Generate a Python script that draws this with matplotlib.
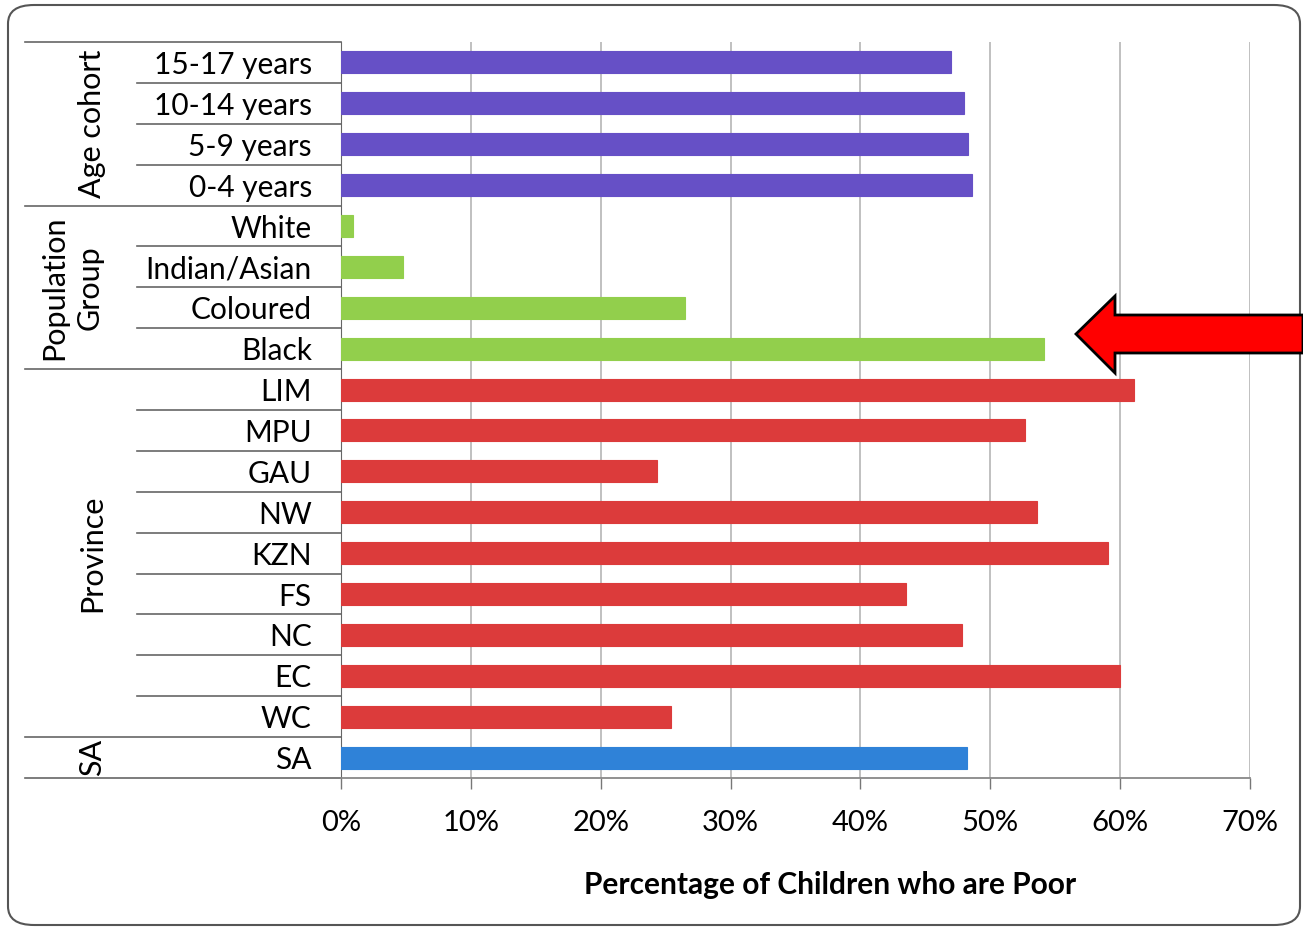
import matplotlib.pyplot as plt
from matplotlib.patches import FancyBboxPatch, Polygon
from matplotlib.transforms import blended_transform_factory

## DATOS ##
labels = ['15-17 years', '10-14 years', '5-9 years', '0-4 years',
          'White', 'Indian/Asian', 'Coloured', 'Black',
          'LIM', 'MPU', 'GAU', 'NW', 'KZN', 'FS', 'NC', 'EC', 'WC',
          'SA']
values = [47.0, 48.0, 48.3, 48.6,
          0.9, 4.8, 26.5, 54.1,
          61.1, 52.7, 24.3, 53.6, 59.1, 43.5, 47.8, 60.0, 25.4,
          48.2]
groups = ['Age cohort', 'Population\nGroup', 'Province', 'SA']
group_sizes = [4, 4, 9, 1]
group_colors = ['#6650C6', '#92CF4C', '#DC3B3B', '#2F82D8']
xticks = [0, 10, 20, 30, 40, 50, 60, 70]
xlabel = 'Percentage of Children who are Poor'
## DATOS ##

W, H = 1303, 930
plt.rcParams['font.family'] = ['Lato', 'DejaVu Sans']

fig = plt.figure(figsize=(W / 100, H / 100), dpi=100)
fig.patch.set_facecolor('white')

# marco redondeado
frame = FancyBboxPatch((8 / W, 5 / H), 1292 / W, 920 / H,
                       boxstyle='round,pad=0,rounding_size=0.02',
                       transform=fig.transFigure, fc='none', ec='#555555',
                       lw=1.5, zorder=0)
fig.patches.append(frame)

x0, x1 = 341, 1250
y0, y1 = 42, 778
ax = fig.add_axes([x0 / W, 1 - y1 / H, (x1 - x0) / W, (y1 - y0) / H])
ax.set_facecolor('none')

colors = []
for c, n in zip(group_colors, group_sizes):
    colors += [c] * n

ypos = list(range(len(labels)))
ax.barh(ypos, values, height=0.54, color=colors, edgecolor=colors, lw=0.8, zorder=3)
ax.set_ylim(len(labels) - 0.5, -0.5)
ax.set_xlim(0, 70)

ax.set_xticks(xticks)
ax.set_xticklabels([f'{t}%' for t in xticks], fontsize=21)
ax.set_yticks(ypos)
ax.set_yticklabels(labels, fontsize=21.5)
ax.tick_params(axis='y', length=0, pad=21)
ax.tick_params(axis='x', length=8, width=1, color='#777777', pad=15)
ax.xaxis.grid(True, color='#BBBBBB', lw=1.3, zorder=0)
for s in ['top', 'right']:
    ax.spines[s].set_visible(False)
ax.spines['left'].set_color('#666666')
ax.spines['bottom'].set_color('#888888')
ax.spines['bottom'].set_linewidth(1.3)

# lineas separadoras en la zona de etiquetas
tr = blended_transform_factory(fig.transFigure, ax.transData)
start = 0
ax.plot([25 / W, x0 / W], [-0.5, -0.5], color='#666666', lw=1.2, transform=tr, clip_on=False)
for g, n in zip(groups, group_sizes):
    for k in range(1, n):
        ax.plot([137 / W, x0 / W], [start + k - 0.5] * 2, color='#666666', lw=1.2,
                transform=tr, clip_on=False)
    end = start + n - 0.5
    ax.plot([25 / W, x0 / W], [end, end], color='#666666', lw=1.2, transform=tr, clip_on=False)
    mid = start + (n - 1) / 2
    xg = 72 if '\n' in g else 92
    ax.text(xg / W, mid, g, transform=tr, rotation=90, ha='center', va='center',
            fontsize=22, linespacing=1.3)
    start += n

fig.text(830 / W, 1 - 885 / H, xlabel, ha='center', va='center', fontsize=21.5,
         fontweight='bold')

# flecha roja
pts = [(1076, 334), (1115, 296), (1115, 315), (1303, 315), (1303, 353),
       (1115, 353), (1115, 373)]
arrow = Polygon([(px / W, 1 - py / H) for px, py in pts], closed=True,
                transform=fig.transFigure, fc='#FF0000', ec='black', lw=2, zorder=10)
fig.patches.append(arrow)

plt.savefig('out.png', dpi=100)
